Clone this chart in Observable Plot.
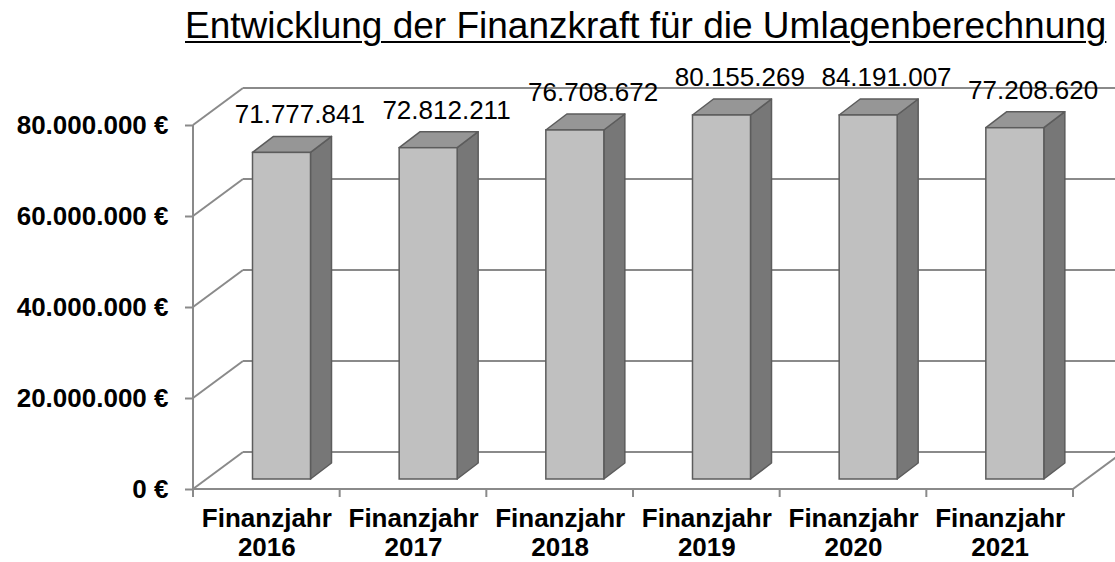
<!DOCTYPE html>
<html><head><meta charset="utf-8">
<script src="https://cdn.jsdelivr.net/npm/d3@7"></script>
<script src="https://cdn.jsdelivr.net/npm/@observablehq/plot@0.6"></script>
<style>
html,body{margin:0;padding:0;background:#fff;overflow:hidden;}
#title{font-family:"Liberation Sans",Arial,sans-serif;font-size:37px;line-height:52px;height:60px;padding-left:185px;text-decoration:underline;text-decoration-thickness:2px;text-underline-offset:3px;white-space:nowrap;color:#000;}
</style></head><body>
<div id="title">Entwicklung der Finanzkraft für die Umlagenberechnung</div>
<div id="chart"></div>
<script>
// ---- data ----
const years = ["2016", "2017", "2018", "2019", "2020", "2021"];
const values = [71777841, 72812211, 76708672, 80155269, 84191007, 77208620];
const categoryPrefix = "Finanzjahr";
const yTicks = [0, 20000000, 40000000, 60000000, 80000000];
const yMax = 80000000;

// ---- styles ----
const gridColor = "#8a8a8a";
const frontFill = "#c0c0c0", topFill = "#969696", sideFill = "#777777", edge = "#5c5c5c";
const wallDepth = [50, -37];   // pixel offset of the back wall
const barDepth = [21, -16];    // pixel depth of each bar
const barLift = -10;           // bar front plane sits behind the front floor edge
const barInsetL = 59.5, barW = 58;
const fs = 26;

const de = d3.formatLocale({decimal: ",", thousands: ".", grouping: [3], currency: ["", " €"]});
const euro = de.format("$,.0f");
const num = de.format(",.0f");

const data = years.map((y, i) => ({year: y, value: values[i]}));

function frame(index, scales) {
  const g = d3.create("svg:g").attr("fill", "none").attr("stroke", gridColor).attr("stroke-width", 2);
  const x0 = scales.x(years[0]);
  const bw = scales.x(years[1]) - x0;
  const x1 = x0 + bw * years.length;
  const [wx, wy] = wallDepth;
  for (const v of yTicks) {
    const y = scales.y(v);
    g.append("line").attr("x1", x0).attr("y1", y).attr("x2", x0 + wx).attr("y2", y + wy);
    g.append("line").attr("x1", x0 + wx).attr("y1", y + wy).attr("x2", x1 + wx).attr("y2", y + wy);
  }
  const yb = scales.y(0), yt = scales.y(yMax);
  g.append("line").attr("x1", x0).attr("y1", yb).attr("x2", x1).attr("y2", yb);
  g.append("line").attr("x1", x1).attr("y1", yb).attr("x2", x1 + wx).attr("y2", yb + wy);
  g.append("line").attr("x1", x0).attr("y1", yt).attr("x2", x0).attr("y2", yb + 8);
  for (let i = 1; i <= years.length; ++i) {
    const x = x0 + i * bw;
    g.append("line").attr("x1", x).attr("y1", yb).attr("x2", x).attr("y2", yb + 8);
  }
  return g.node();
}

function faces(index, scales) {
  const g = d3.create("svg:g").attr("stroke", edge).attr("stroke-width", 1.5).attr("stroke-linejoin", "round");
  const [dx, dy] = barDepth;
  data.forEach(d => {
    const l = scales.x(d.year) + barInsetL, r = l + barW;
    const t = scales.y(d.value) + barLift, b = scales.y(0) + barLift;
    g.append("polygon").attr("fill", sideFill)
      .attr("points", [[r, t], [r + dx, t + dy], [r + dx, b + dy], [r, b]].map(p => p.join(",")).join(" "));
    g.append("polygon").attr("fill", topFill)
      .attr("points", [[l, t], [l + dx, t + dy], [r + dx, t + dy], [r, t]].map(p => p.join(",")).join(" "));
  });
  return g.node();
}

const bwGuess = (1115 - 193 - 42) / years.length;

const chart = Plot.plot({
  width: 1115,
  height: 502,
  marginLeft: 193,
  marginRight: 42,
  marginTop: 65,
  marginBottom: 73,
  style: {fontFamily: '"Liberation Sans", Arial, sans-serif', fontSize: fs + "px", color: "#000", background: "#fff", overflow: "hidden"},
  x: {type: "band", domain: years, padding: 0, round: false},
  y: {domain: [0, yMax], clamp: true},
  marks: [
    frame,
    Plot.axisY({ticks: yTicks, tickSize: 8, tickPadding: 17, tickFormat: euro, label: null,
      stroke: gridColor, strokeWidth: 2, fill: "#000", fontWeight: "bold", fontSize: fs}),
    Plot.axisX({tickSize: 0, tickPadding: 18, label: null, tickFormat: d => `${categoryPrefix}\n${d}`,
      fill: "#000", fontWeight: "bold", fontSize: fs, lineHeight: 1.08}),
    faces,
    Plot.barY(data, {x: "year", y: "value", insetLeft: barInsetL, insetRight: bwGuess - barInsetL - barW, dy: barLift,
      fill: frontFill, stroke: edge, strokeWidth: 1.5}),
    Plot.text(data, {x: "year", y: "value", text: d => num(d.value), dx: 33, dy: -48, fontSize: fs, fill: "#000"})
  ]
});
document.getElementById("chart").append(chart);
</script>
</body></html>
